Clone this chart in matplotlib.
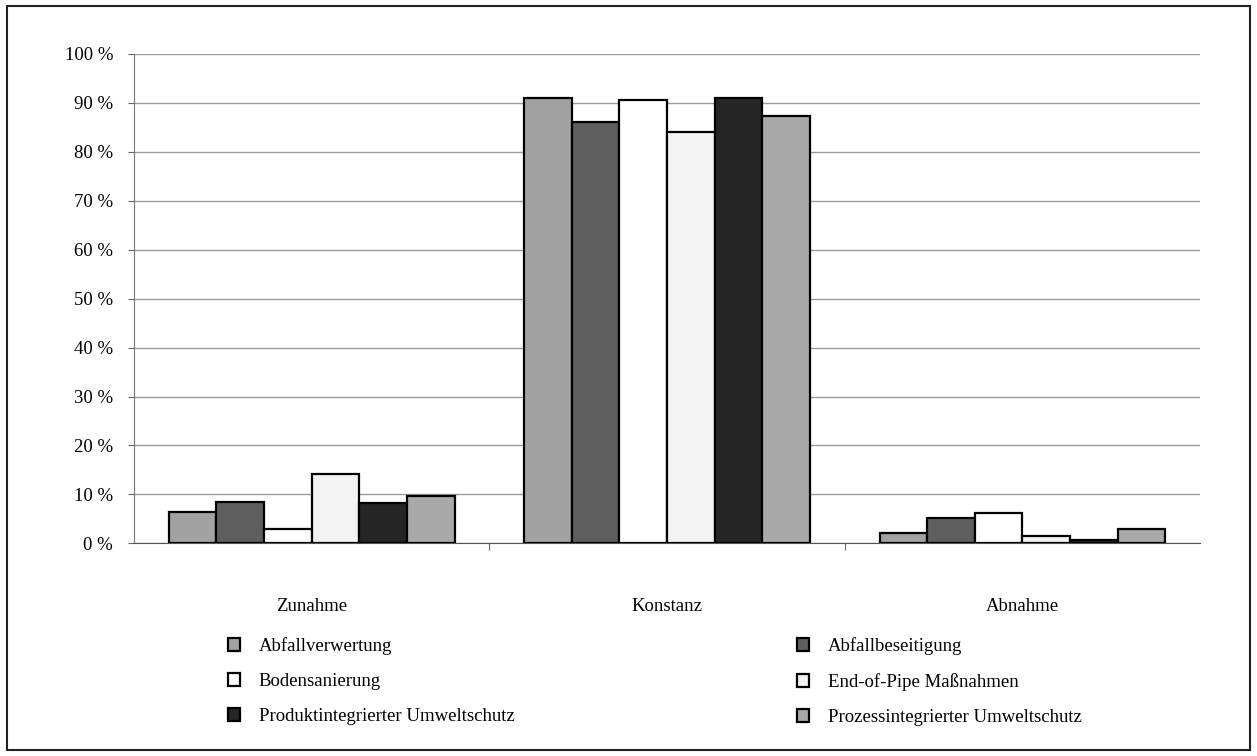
import numpy as np
import matplotlib
matplotlib.use("Agg")
import matplotlib.pyplot as plt
from matplotlib.patches import Rectangle

categories = ["Zunahme", "Konstanz", "Abnahme"]
series = [
    "Abfallverwertung",
    "Abfallbeseitigung",
    "Bodensanierung",
    "End-of-Pipe Maßnahmen",
    "Produktintegrierter Umweltschutz",
    "Prozessintegrierter Umweltschutz",
]
abfallverwertung = [6.4, 91.1, 2.2]
abfallbeseitigung = [8.4, 86.2, 5.2]
bodensanierung = [3.0, 90.5, 6.2]
end_of_pipe = [14.2, 84.0, 1.5]
produktintegriert = [8.3, 91.0, 0.6]
prozessintegriert = [9.7, 87.3, 2.9]
values = [abfallverwertung, abfallbeseitigung, bodensanierung,
          end_of_pipe, produktintegriert, prozessintegriert]
colors = ["#a2a2a2", "#5e5e5e", "#ffffff", "#f3f3f3", "#262626", "#a9a9a9"]
yticks = list(range(0, 101, 10))
ytick_labels = [f"{v} %" for v in yticks]

plt.rcParams["font.family"] = ["Liberation Serif", "DejaVu Serif"]
FS = 13.5

W, H = 1257, 756
fig = plt.figure(figsize=(W / 100, H / 100), dpi=100)
ax = fig.add_axes([0.1066, 0.2813, 0.8481, 0.6473])

x = np.arange(len(categories))
bw = 0.134
n = len(series)
handles = []
for i, (vals, col) in enumerate(zip(values, colors)):
    offs = (i - (n - 1) / 2) * bw
    b = ax.bar(x + offs, vals, width=bw, color=col, edgecolor="black",
               linewidth=1.6, zorder=3, label=series[i])
    handles.append(b)

ax.set_xlim(-0.5, 2.5)
ax.set_ylim(0, 100)
ax.set_yticks(yticks)
ax.set_yticklabels(ytick_labels, fontsize=FS)
ax.yaxis.grid(True, color="#9a9a9a", linewidth=1.0, zorder=0)
ax.set_axisbelow(True)

# category labels centred, tick marks between categories
ax.set_xticks([0.5, 1.5])
ax.set_xticklabels([])
ax.set_xticks(x, minor=True)
ax.set_xticklabels(categories, minor=True, fontsize=FS)
ax.tick_params(axis="x", which="minor", length=0, pad=39)
ax.tick_params(axis="x", which="major", length=5, color="#666666")
ax.tick_params(axis="y", length=4, color="#666666", pad=11)

for side in ("top", "right"):
    ax.spines[side].set_visible(False)
ax.spines["left"].set_color("#777777")
ax.spines["bottom"].set_color("#555555")

# legend: two single-column blocks
def add_legend(idx, x_px):
    leg = fig.legend([handles[i] for i in idx], [series[i] for i in idx],
                     ncol=1, frameon=False, fontsize=FS,
                     loc="upper left",
                     bbox_to_anchor=(x_px / W, 1 - 637 / H),
                     borderpad=0, borderaxespad=0,
                     handlelength=0.65, handleheight=0.65,
                     handletextpad=1.0, labelspacing=0.97)
    for p in leg.get_patches():
        p.set_linewidth(1.6)
    return leg

add_legend([0, 2, 4], 228)
add_legend([1, 3, 5], 797)

fig.patches.append(Rectangle((0.0056, 0.008), 0.9888, 0.984,
                             transform=fig.transFigure, fill=False,
                             edgecolor="#222222", linewidth=1.5))

fig.savefig("out.png", dpi=100, facecolor="white")
